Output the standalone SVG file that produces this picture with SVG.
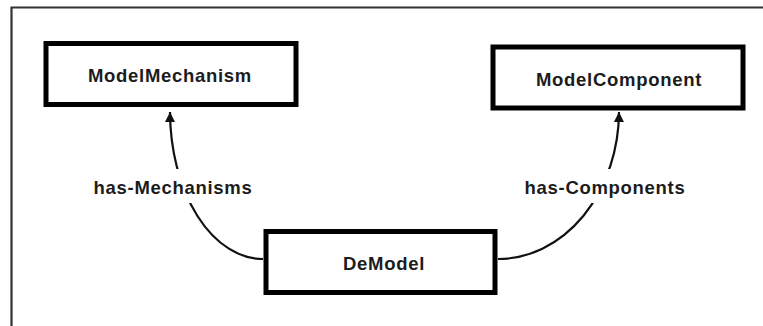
<svg xmlns="http://www.w3.org/2000/svg" width="763" height="326" viewBox="0 0 763 326">
  <style>
    .frame { fill: none; stroke: #333333; stroke-width: 2.2; }
    .node rect { fill: #ffffff; stroke: #000000; stroke-width: 5; }
    .lbl { font-family: "Liberation Sans", Arial, sans-serif; font-weight: bold; font-size: 18.5px; letter-spacing: 0.7px; fill: #1c1c1c; text-anchor: middle; }
    .edge { fill: none; stroke: #111111; stroke-width: 2.2; }
    .gap { fill: #ffffff; stroke: none; }
  </style>
  <defs>
    <marker id="arrow" viewBox="0 0 10 10" refX="10" refY="5" markerWidth="11" markerHeight="10" markerUnits="userSpaceOnUse" orient="auto">
      <path d="M0,0 L10,5 L0,10 Z" fill="#111111"/>
    </marker>
  </defs>

  <rect width="763" height="326" fill="#ffffff"/>
  <!-- page frame: only top and left edges are inside the canvas -->
  <path class="frame" d="M11.5,330 L11.5,7.5 L770,7.5"/>

  <g id="connectors">
    <path class="edge" d="M263,259 A93,148 0 0 1 170,112" marker-end="url(#arrow)"/>
    <path class="edge" d="M498,259 A121,148 0 0 0 619,112" marker-end="url(#arrow)"/>
    <rect class="gap" x="88" y="169" width="168" height="34"/>
    <rect class="gap" x="518" y="169" width="172" height="34"/>
    <text class="lbl" x="173" y="194">has-Mechanisms</text>
    <text class="lbl" x="605" y="194">has-Components</text>
  </g>

  <g id="ModelMechanism" class="node">
    <rect x="46" y="43.5" width="250" height="61"/>
    <text class="lbl" x="170" y="82">ModelMechanism</text>
  </g>

  <g id="ModelComponent" class="node">
    <rect x="493" y="47" width="250" height="61"/>
    <text class="lbl" x="619" y="86">ModelComponent</text>
  </g>

  <g id="DeModel" class="node">
    <rect x="266" y="231.5" width="229" height="61"/>
    <text class="lbl" x="384" y="270">DeModel</text>
  </g>
</svg>
